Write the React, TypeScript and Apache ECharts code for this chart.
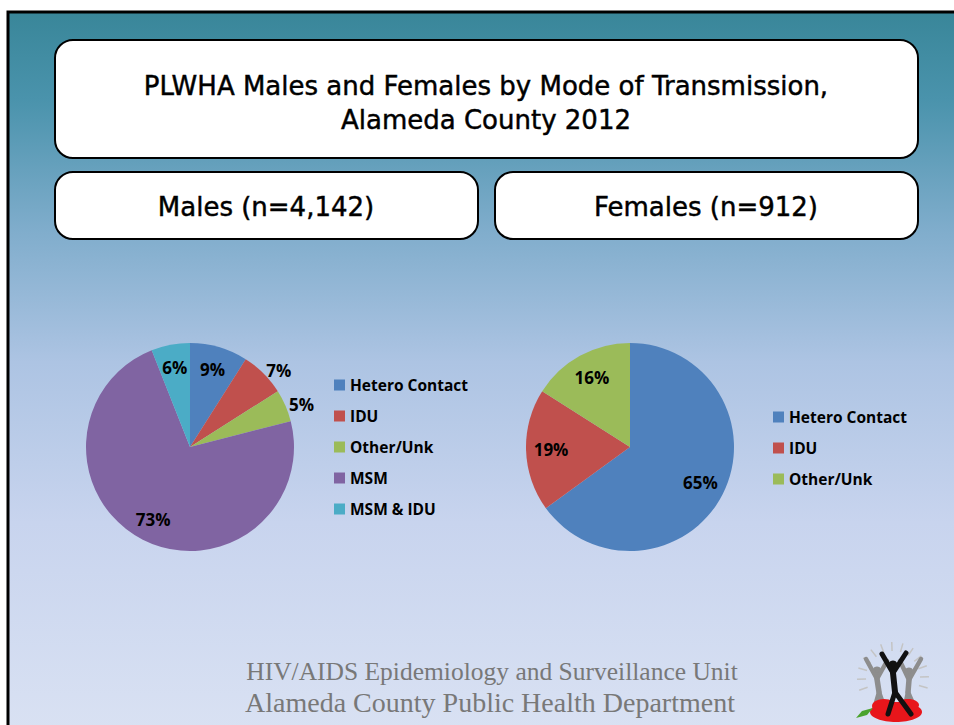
import React, { useEffect, useRef } from "react";
import * as echarts from "echarts";

const maleCategories = ["Hetero Contact", "IDU", "Other/Unk", "MSM", "MSM & IDU"];
const maleValues = [9, 7, 5, 73, 6];
const femaleCategories = ["Hetero Contact", "IDU", "Other/Unk"];
const femaleValues = [65, 19, 16];
const categoryColors: Record<string, string> = {
  "Hetero Contact": "#4F81BD",
  IDU: "#C0504D",
  "Other/Unk": "#9BBB59",
  MSM: "#8064A2",
  "MSM & IDU": "#4BACC6",
};
// labels of the male pie drawn outside the slice
const maleOutside = ["IDU", "Other/Unk"];

const titleLines = ["PLWHA Males and Females by Mode of Transmission,", "Alameda County 2012"];
const maleTitle = "Males (n=4,142)";
const femaleTitle = "Females (n=912)";
const footerLines = ["HIV/AIDS Epidemiology and Surveillance Unit", "Alameda County Public Health Department"];

const LABEL_FONT = '"Open Sans", "Noto Sans", sans-serif';
const BOX_FONT = '"DejaVu Sans", sans-serif';

function textEl(text: string, x: number, y: number, font: string, fill: string, extra: any = {}) {
  return {
    type: "text",
    z: 20,
    silent: true,
    style: {
      text,
      x,
      y,
      font,
      fill,
      align: "center",
      verticalAlign: "middle",
      textAlign: "center",
      textVerticalAlign: "middle",
      ...extra,
    },
  };
}

function boxEl(x: number, y: number, w: number, h: number) {
  return {
    type: "rect",
    z: 10,
    silent: true,
    shape: { x, y, width: w, height: h, r: 18 },
    style: { fill: "#ffffff", stroke: "#000000", lineWidth: 2 },
  };
}

function logoEls() {
  const els: any[] = [];
  const cx = 893;
  const cy = 678;
  for (let a = -110; a <= 110; a += 18) {
    const rad = (a * Math.PI) / 180;
    els.push({
      type: "line",
      z: 11,
      silent: true,
      shape: {
        x1: cx + Math.sin(rad) * 27,
        y1: cy - Math.cos(rad) * 27,
        x2: cx + Math.sin(rad) * 36,
        y2: cy - Math.cos(rad) * 36,
      },
      style: { stroke: "#c4c4c4", lineWidth: 1.5 },
    });
  }
  const person = (hx: number, hy: number, lh: number[], rh: number[], hip: number[], lf: number[], rf: number[], color: string, z: number, w: number) => {
    els.push({ type: "circle", z, silent: true, shape: { cx: hx, cy: hy, r: 4.5 }, style: { fill: color } });
    const neck = [hx, hy + 8];
    els.push({ type: "polyline", z, silent: true, shape: { points: [lh, neck, rh] }, style: { stroke: color, lineWidth: w, lineCap: "round", lineJoin: "round", fill: null } });
    els.push({ type: "polyline", z, silent: true, shape: { points: [neck, hip] }, style: { stroke: color, lineWidth: w + 1, lineCap: "round", fill: null } });
    els.push({ type: "polyline", z, silent: true, shape: { points: [lf, hip, rf] }, style: { stroke: color, lineWidth: w, lineCap: "round", lineJoin: "round", fill: null } });
  };
  person(877, 671, [866, 659], [887, 661], [879, 692], [875, 706], [884, 706], "#8d8d8d", 12, 4.5);
  person(909, 672, [900, 661], [921, 659], [908, 692], [905, 706], [914, 706], "#8d8d8d", 12, 4.5);
  // red blob (in front of grey figures' feet)
  els.push({ type: "ellipse", z: 13, silent: true, shape: { cx: 896, cy: 712, rx: 26, ry: 10 }, style: { fill: "#e8161b" } });
  els.push({ type: "ellipse", z: 13, silent: true, shape: { cx: 884, cy: 706, rx: 12, ry: 7 }, style: { fill: "#e8161b" } });
  els.push({ type: "ellipse", z: 13, silent: true, shape: { cx: 908, cy: 705, rx: 11, ry: 6 }, style: { fill: "#e8161b" } });
  // leaf
  els.push({
    type: "polygon",
    z: 14,
    silent: true,
    shape: { points: [[856, 718], [862, 711], [873, 708], [867, 715]] },
    style: { fill: "#4aa32d" },
  });
  person(893, 665, [882, 654], [906, 653], [895, 692], [888, 714], [911, 714], "#111111", 15, 5);
  return els;
}

export default function App() {
  const ref = useRef<HTMLDivElement>(null);
  useEffect(() => {
    if (!ref.current) return;
    const chart = echarts.init(ref.current, undefined, { renderer: "svg" });

    const labelStyle = {
      color: "#000000",
      fontFamily: LABEL_FONT,
      fontWeight: "bold" as const,
      fontSize: 17,
      formatter: "{c}%",
    };

    const maleMain = maleCategories.map((name, i) => ({
      name,
      value: maleValues[i],
      itemStyle: { color: categoryColors[name] },
      label: maleOutside.includes(name)
        ? { show: true, position: "outside", distanceToLabelLine: 0 }
        : { show: false },
      labelLine: { show: false, length: 4, length2: 0 },
    }));
    const maleOverlay = maleCategories.map((name, i) => ({
      name,
      value: maleValues[i],
      label: { show: !maleOutside.includes(name) },
    }));
    const femaleMain = femaleCategories.map((name, i) => ({
      name,
      value: femaleValues[i],
      itemStyle: { color: categoryColors[name] },
    }));
    const femaleOverlay = femaleCategories.map((name, i) => ({ name, value: femaleValues[i] }));

    const legendCommon = {
      orient: "vertical",
      icon: "rect",
      itemWidth: 11,
      itemHeight: 11,
      itemGap: 11,
      padding: 0,
      selectedMode: false,
      textStyle: {
        color: "#000000",
        fontFamily: LABEL_FONT,
        fontWeight: "bold",
        fontSize: 15.5,
        lineHeight: 20,
      },
    };

    const boxTextExtra = { stroke: "#000000", lineWidth: 0.45 };

    const option: any = {
      animation: false,
      legend: [
        {
          ...legendCommon,
          left: 334,
          top: 375,
          data: maleCategories.map((name) => ({ name, itemStyle: { color: categoryColors[name] } })),
        },
        {
          ...legendCommon,
          left: 773,
          top: 407,
          data: femaleCategories.map((name) => ({ name, itemStyle: { color: categoryColors[name] } })),
        },
      ],
      series: [
        {
          type: "pie",
          name: "Males",
          center: [190, 447],
          radius: [0, 104],
          startAngle: 90,
          clockwise: true,
          avoidLabelOverlap: false,
          silent: true,
          z: 5,
          label: { ...labelStyle },
          labelLine: { show: false, length: 4, length2: 0 },
          itemStyle: { borderWidth: 0 },
          data: maleMain,
        },
        {
          type: "pie",
          name: "Females",
          center: [630, 447],
          radius: [0, 104],
          startAngle: 90,
          clockwise: true,
          avoidLabelOverlap: false,
          silent: true,
          z: 5,
          label: { show: false },
          labelLine: { show: false },
          itemStyle: { borderWidth: 0 },
          data: femaleMain,
        },
        {
          type: "pie",
          name: "MalesLabels",
          center: [190, 447],
          radius: [0, 156],
          startAngle: 90,
          clockwise: true,
          avoidLabelOverlap: false,
          silent: true,
          z: 6,
          itemStyle: { color: "rgba(0,0,0,0)", borderWidth: 0 },
          label: { ...labelStyle, position: "inside" },
          labelLine: { show: false },
          data: maleOverlay,
        },
        {
          type: "pie",
          name: "FemalesLabels",
          center: [630, 447],
          radius: [0, 152],
          startAngle: 90,
          clockwise: true,
          avoidLabelOverlap: false,
          silent: true,
          z: 6,
          itemStyle: { color: "rgba(0,0,0,0)", borderWidth: 0 },
          label: { ...labelStyle, show: true, position: "inside" },
          labelLine: { show: false },
          data: femaleOverlay,
        },
      ],
      graphic: [
        {
          type: "rect",
          z: -10,
          silent: true,
          shape: { x: 8, y: 12, width: 960, height: 730 },
          style: {
            fill: {
              type: "linear",
              x: 0,
              y: 0,
              x2: 0,
              y2: 1,
              colorStops: [
                { offset: 0, color: "#398699" },
                { offset: 0.12, color: "#4a93ac" },
                { offset: 0.3, color: "#80adcc" },
                { offset: 0.48, color: "#adc4e3" },
                { offset: 0.7, color: "#c8d4ee" },
                { offset: 1, color: "#dae2f3" },
              ],
            },
            stroke: "#000000",
            lineWidth: 3,
          },
        },
        boxEl(55, 40, 863, 118),
        boxEl(55, 172, 423, 67),
        boxEl(495, 172, 423, 67),
        textEl(titleLines[0], 486, 86, `26px ${BOX_FONT}`, "#000000", boxTextExtra),
        textEl(titleLines[1], 486, 120, `26px ${BOX_FONT}`, "#000000", boxTextExtra),
        textEl(maleTitle, 266, 207, `26px ${BOX_FONT}`, "#000000", boxTextExtra),
        textEl(femaleTitle, 706, 207, `26px ${BOX_FONT}`, "#000000", boxTextExtra),
        textEl(footerLines[0], 492, 671, `25.5px "Liberation Serif", serif`, "#787878"),
        textEl(footerLines[1], 490, 702, `28px "Liberation Serif", serif`, "#787878"),
        ...logoEls(),
      ],
    };
    chart.setOption(option);
    return () => chart.dispose();
  }, []);
  return (
    <div
      ref={ref}
      style={{ position: "absolute", left: 0, top: 0, width: 954, height: 725, background: "#ffffff" }}
    />
  );
}
